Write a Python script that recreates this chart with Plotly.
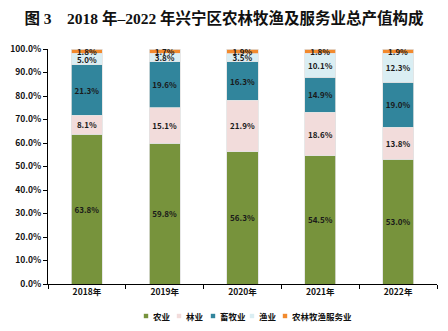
import plotly.graph_objects as go

years = ["2018年", "2019年", "2020年", "2021年", "2022年"]
series_names = ["农业", "林业", "畜牧业", "渔业", "农林牧渔服务业"]
agri = [63.8, 59.8, 56.3, 54.5, 53.0]
forestry = [8.1, 15.1, 21.9, 18.6, 13.8]
husbandry = [21.3, 19.6, 16.3, 14.9, 19.0]
fishery = [5.0, 3.8, 3.5, 10.1, 12.3]
service = [1.8, 1.7, 1.9, 1.8, 1.9]
colors = ["#77933C", "#F2DCDB", "#31859C", "#DAEEF3", "#F28A2E"]
yticks = [0, 10, 20, 30, 40, 50, 60, 70, 80, 90, 100]

title_fam = "Liberation Serif, Noto Sans CJK SC, serif"
lab_fam = "Noto Sans CJK SC, DejaVu Sans"

# plot area geometry (pixels) used to place the custom legend
L, R, T, B = 48, 11, 49, 47
W, H = 448, 331
pw, ph = W - L - R, H - T - B

fig = go.Figure()
for name, vals, col in zip(series_names, [agri, forestry, husbandry, fishery, service], colors):
    fig.add_trace(go.Bar(
        x=years, y=vals, name=name, showlegend=False,
        marker=dict(color=col, line=dict(color="#E2E2E2", width=0.8)),
        text=[f"<b>{v:.1f}%</b>" for v in vals],
        textposition="inside", insidetextanchor="middle",
        textfont=dict(size=8, color="#1a1a1a", family=lab_fam),
        constraintext="none", textangle=0,
    ))

# compact custom legend (squares + text), like the original
legend_sq_px = [146, 179, 213, 252, 285]
legend_y_px = 316
for name, col, sx in zip(series_names, colors, legend_sq_px):
    x0 = (sx - 2.2 - L) / pw
    x1 = (sx + 2.2 - L) / pw
    y0 = (H - B - legend_y_px - 2.2) / ph
    y1 = (H - B - legend_y_px + 2.2) / ph
    fig.add_shape(type="rect", xref="paper", yref="paper", x0=x0, x1=x1, y0=y0, y1=y1,
                  fillcolor=col, line=dict(width=0))
    fig.add_annotation(xref="paper", yref="paper", x=(sx + 4.5 - L) / pw,
                       y=(H - B - legend_y_px) / ph, xanchor="left", yanchor="middle",
                       text=f"<b>{name}</b>", showarrow=False,
                       font=dict(size=8.5, color="#111", family=lab_fam))

fig.update_layout(
    barmode="stack", bargap=0.6,
    width=W, height=H,
    margin=dict(l=L, r=R, t=T, b=B),
    paper_bgcolor="white", plot_bgcolor="white",
    title=dict(text="<b>图 3　2018 年–2022 年兴宁区农林牧渔及服务业总产值构成</b>",
               x=0.5, xanchor="center", y=0.945, yanchor="middle",
               font=dict(size=15.5, color="#111", family=title_fam)),
    uniformtext=dict(minsize=7, mode="show"),
    showlegend=False,
)
fig.update_xaxes(showline=True, linecolor="black", linewidth=1,
                 ticks="outside", tickson="boundaries", ticklen=4, tickcolor="black",
                 tickfont=dict(size=8.5, color="#111", family=lab_fam, weight="bold"))
fig.update_yaxes(range=[0, 100], tickvals=yticks, ticktext=[f"{v:.1f}%" for v in yticks],
                 showline=True, linecolor="black", linewidth=1,
                 ticks="outside", ticklen=4, tickcolor="black", showgrid=False,
                 zeroline=False,
                 tickfont=dict(size=8.5, color="#111", family=lab_fam, weight="bold"))

fig.write_html("out.html")
